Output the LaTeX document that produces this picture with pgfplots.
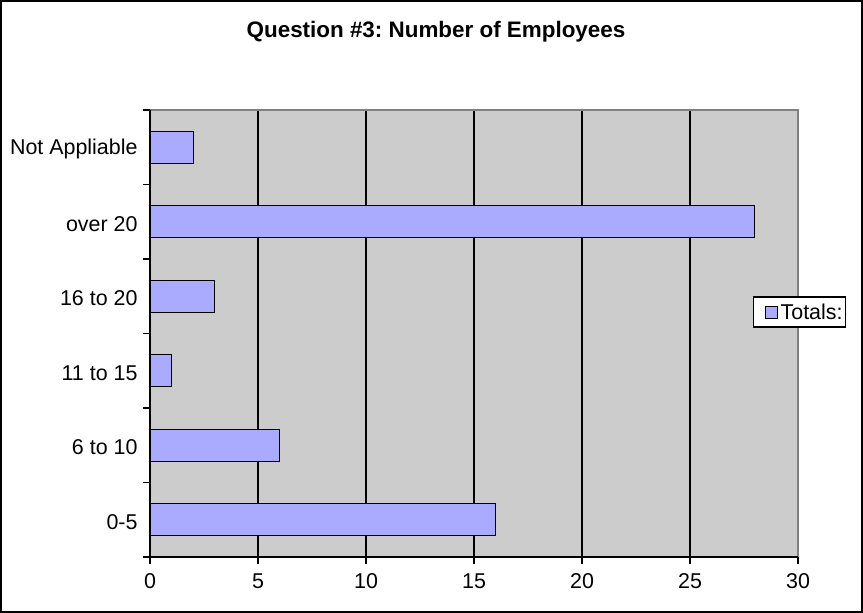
\documentclass[border=0pt]{standalone}
\usepackage{fontspec}
\setmainfont{Liberation Sans}
\usepackage{pgfplots}
\pgfplotsset{compat=1.18}
\definecolor{plotgray}{RGB}{204,204,204}
\definecolor{barblue}{RGB}{170,170,255}
\definecolor{framegray}{RGB}{128,128,128}
\frenchspacing
\begin{document}
\begin{tikzpicture}[x=1bp,y=1bp]
\useasboundingbox (0,0) rectangle (863,613);
\fill[white] (0,0) rectangle (863,613);
\draw[line width=2bp] (1,1) rectangle (862,612);
\node[font=\fontsize{22.5}{26}\selectfont\bfseries] at (436,581) {Question \#3: Number of Employees};
\begin{axis}[
  at={(150bp,56bp)}, anchor=south west,
  scale only axis, width=648bp, height=447bp,
  xmin=0, xmax=30, ymin=-0.5, ymax=5.5,
  xtick={0,5,...,30},
  ytick={0,...,5},
  yticklabels={0-5,6 to 10,11 to 15,16 to 20,over 20,Not Appliable},
  minor ytick={-0.5,0.5,...,5.5},
  xtick pos=bottom, ytick pos=left,
  tick align=outside,
  major tick length=7bp, minor tick length=7bp,
  every major y tick/.style={draw=none},
  every tick/.append style={black, line width=1.3bp},
  xmajorgrids,
  major x grid style={black, line width=1.3bp},
  axis background/.style={fill=plotgray},
  axis line style={draw=none},
  /pgf/number format/assume math mode=true,
  tick label style={font=\fontsize{21.5}{25}\selectfont},
  xticklabel style={yshift=-6bp},
  yticklabel style={xshift=-2bp, yshift=-2bp},
  legend style={at={(0.9306,0.548)}, anchor=west, draw=black, line width=1.2bp,
    fill=white, font=\fontsize{21.5}{25}\selectfont, inner xsep=2bp, inner ysep=3bp,
    legend cell align=left, nodes={inner sep=1bp},
    /tikz/every even column/.append style={column sep=2bp}},
  legend image code/.code={\path[draw=none, fill=none] (-10bp,-12bp) rectangle (14bp,12bp);
    \draw[#1, line width=1bp] (0bp,-6bp) rectangle (12bp,6bp);},
  clip=false,
]
\addplot[xbar, bar width=32bp, fill=barblue, draw=black, line width=1.3bp]
  coordinates {(16,0) (6,1) (1,2) (3,3) (28,4) (2,5)};
\addlegendentry{Totals:}
\draw[framegray, line width=1.3bp] (rel axis cs:0,1) -- (rel axis cs:1,1) -- (rel axis cs:1,0);
\draw[black, line width=1.5bp] (rel axis cs:0,1) -- (rel axis cs:0,0) -- (rel axis cs:1,0);
\end{axis}
\end{tikzpicture}
\end{document}
